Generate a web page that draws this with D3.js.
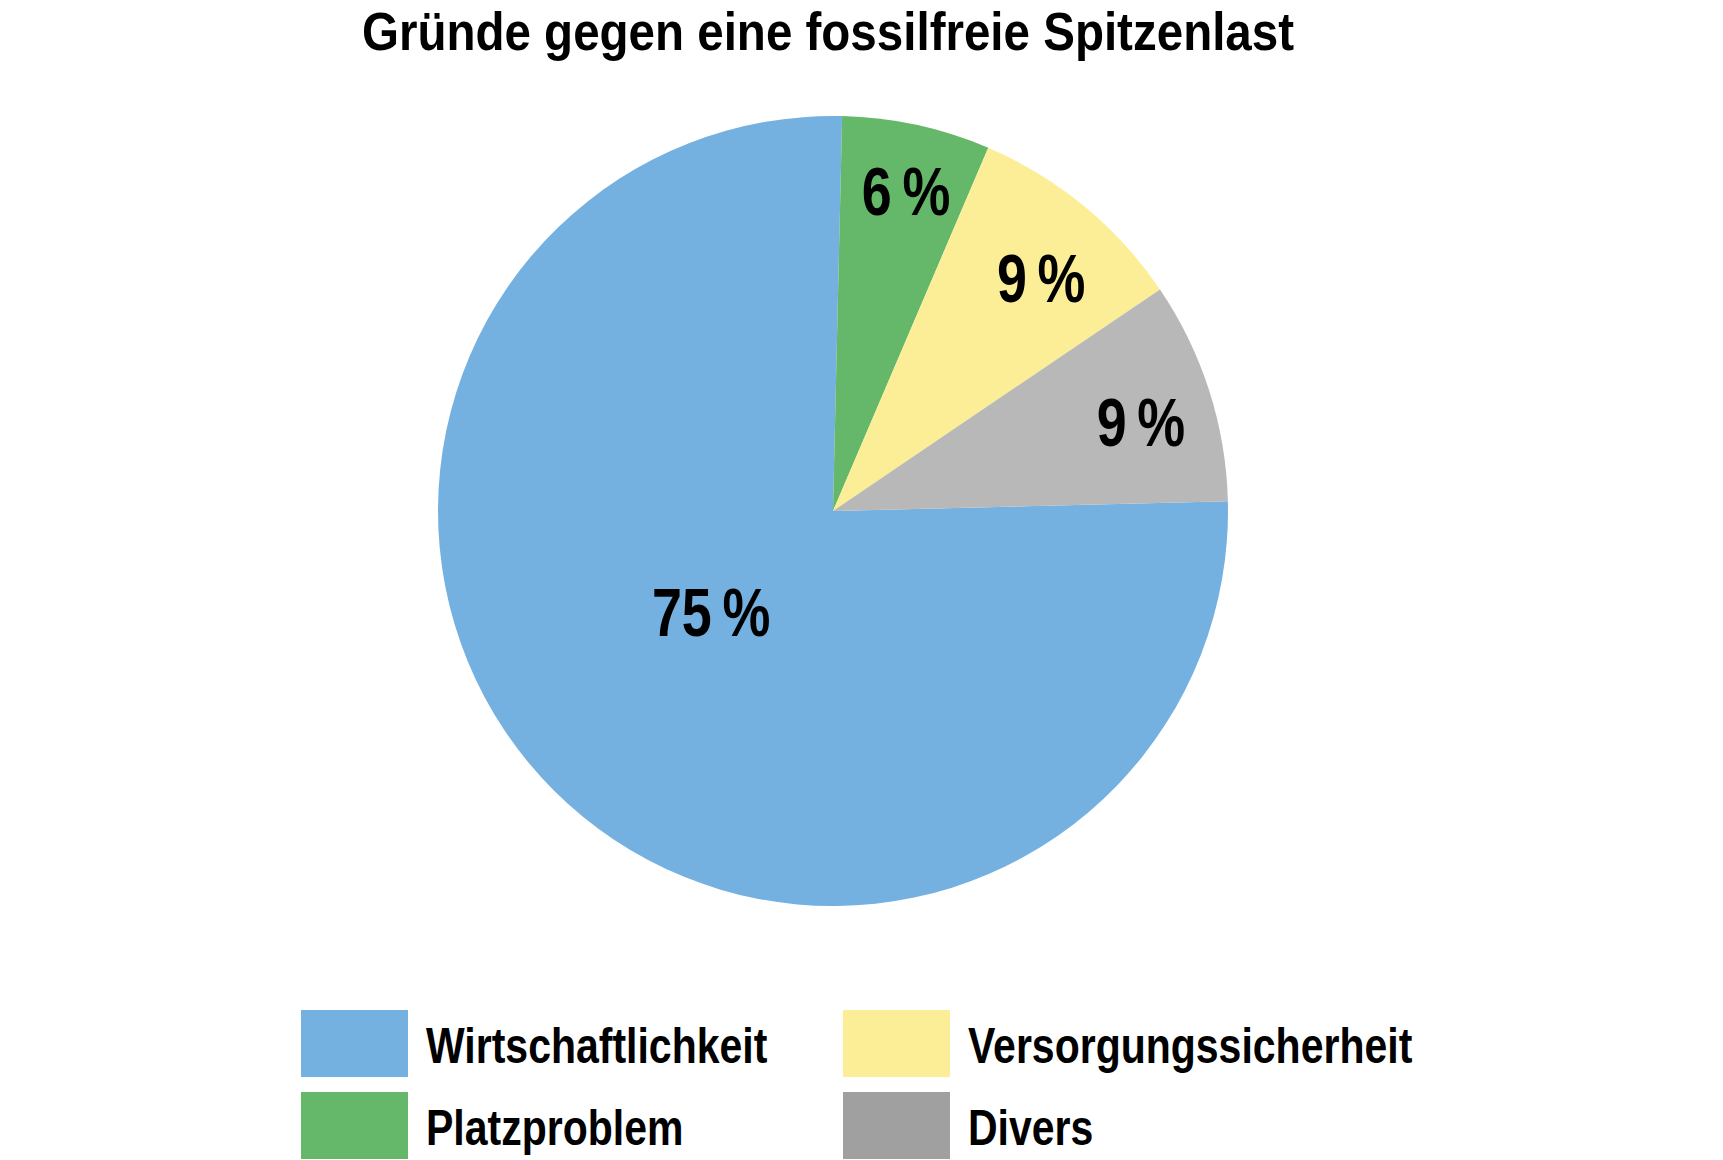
<!DOCTYPE html>
<html>
<head>
<meta charset="utf-8">
<script src="https://cdn.jsdelivr.net/npm/d3@7"></script>
<style>
  body { margin: 0; background: #fff; }
  svg text { font-family: "Liberation Sans", Arial, sans-serif; font-weight: bold; }
</style>
</head>
<body>
<svg id="chart" width="1723" height="1160"></svg>
<script>
// --- DATA ---
const title = "Gründe gegen eine fossilfreie Spitzenlast";
const categories = ["Wirtschaftlichkeit", "Platzproblem", "Versorgungssicherheit", "Divers"];
const shares = [75, 6, 9, 9];

// --- STYLE / LAYOUT ---
const sliceColors = ["#75b1e0", "#65b76a", "#fbee96", "#b8b8b8"];
const legendColors = ["#75b1e0", "#65b76a", "#fbee96", "#a0a0a0"];
const labelRadius = [0.40, 0.833, 0.792, 0.812];   // fraction of radius for the % labels
const labelTurn = [5.5, 0.6, 2.2, 1.5];             // degrees past the slice middle
const cx = 833, cy = 511, R = 395;
const startDeg = 88.6;
const NARROW = 0.82;   // no narrow font installed -> squeeze Liberation Sans Bold

const svg = d3.select("#chart");

svg.append("text")
    .attr("transform", `translate(828,50) scale(0.88,1)`)
    .attr("text-anchor", "middle")
    .attr("font-size", 54)
    .text(title);

// --- PIE ---
const pie = d3.pie().sort(null).value(d => d.v)
    .startAngle(startDeg * Math.PI / 180)
    .endAngle(startDeg * Math.PI / 180 + 2 * Math.PI);
const slices = pie(shares.map((v, i) => ({ v, i })));
const arc = d3.arc().innerRadius(0).outerRadius(R);

const g = svg.append("g").attr("transform", `translate(${cx},${cy})`);
g.selectAll("path.slice").data(slices).join("path")
    .attr("class", "slice")
    .attr("d", arc)
    .attr("fill", d => sliceColors[d.data.i]);

g.selectAll("text.pct").data(slices).join("text")
    .attr("class", "pct")
    .attr("transform", d => {
        const r = R * labelRadius[d.data.i];
        const a = (d.startAngle + d.endAngle) / 2 + labelTurn[d.data.i] * Math.PI / 180;
        return `translate(${r * Math.sin(a)},${-r * Math.cos(a)}) scale(0.78,1)`;
    })
    .attr("text-anchor", "middle")
    .attr("dy", "0.36em")
    .attr("font-size", 69)
    .text(d => d.data.v + "\u2009%");

// --- LEGEND (two columns, column-major) ---
const colX = [301, 843], rowY = [1010, 1092];
const legend = svg.append("g");
const item = legend.selectAll("g.item").data(categories).join("g")
    .attr("class", "item")
    .attr("transform", (d, i) => `translate(${colX[Math.floor(i / 2)]},${rowY[i % 2]})`);
item.append("rect")
    .attr("width", 107).attr("height", 67)
    .attr("fill", (d, i) => legendColors[i]);
item.append("text")
    .attr("transform", `translate(125,53) scale(${NARROW},1)`)
    .attr("font-size", 50)
    .text(d => d);
</script>
</body>
</html>
